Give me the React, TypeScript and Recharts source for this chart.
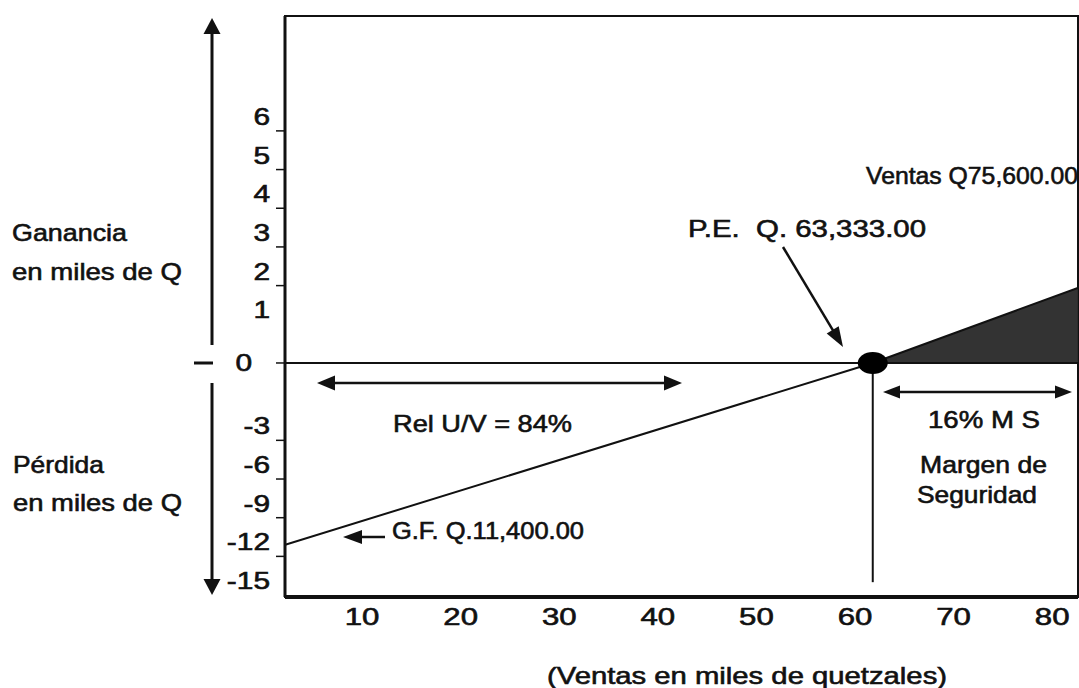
// @ts-nocheck
import React from "react";
import {
  ComposedChart,
  Line,
  Area,
  XAxis,
  YAxis,
  ReferenceLine,
  ReferenceDot,
  ReferenceArea,
} from "recharts";

// ventas en miles de Q (eje X) y resultado (ganancia / pérdida) en miles de Q
const ventas = [2.2, 61.8, 82.6];
const resultado = [-11.1, 0, 1.94];
const ganancia = [null, 0, 1.94];
const puntoEquilibrio = 61.8;
const finLineaVertical = -14;

const xTicks = [10, 20, 30, 40, 50, 60, 70, 80];
const yTicks = [6, 5, 4, 3, 2, 1, 0, -3, -6, -9, -12, -15];
const sinMarca = [1, -15];

const FONT = "'Liberation Sans', Arial, Helvetica, sans-serif";
const INK = "#111";
const BOLD = { stroke: INK, strokeWidth: 0.6 };

// escala no lineal del original: arriba 1 unidad por paso, abajo 3 unidades por paso
const yPos = (v) => (v >= 0 ? v : v / 3 - 1);
const yVal = (p) => Math.round(p >= 0 ? p : (p + 1) * 3);

const data = ventas.map((x, i) => ({
  x,
  y: yPos(resultado[i]),
  g: ganancia[i] == null ? null : yPos(ganancia[i]),
}));

const X_DOMAIN = [2.18, 82.62];
const Y_DOMAIN = [-6.05, 8.97];
const PLOT_LEFT = 285;

const YTick = ({ y, payload }) => {
  const v = yVal(payload.value);
  if (v === 0) {
    return (
      <g>
        <line x1={PLOT_LEFT - 9} x2={PLOT_LEFT} y1={y} y2={y} stroke={INK} strokeWidth={1.5} />
        <text transform={`translate(252,${y + 8}) scale(1.3,1)`} textAnchor="end" fontSize={23} fontFamily={FONT} fill={INK} {...BOLD}>
          {v}
        </text>
      </g>
    );
  }
  return (
    <g>
      {!sinMarca.includes(v) && (
        <line x1={PLOT_LEFT - 9} x2={PLOT_LEFT} y1={y} y2={y} stroke={INK} strokeWidth={1.5} />
      )}
      <text transform={`translate(270,${y - 6}) scale(1.3,1)`} textAnchor="end" fontSize={23} fontFamily={FONT} fill={INK} {...BOLD}>
        {v}
      </text>
    </g>
  );
};

const XTick = ({ x, payload }) => (
  <text transform={`translate(${x},625) scale(1.3,1)`} textAnchor="middle" fontSize={24} fontFamily={FONT} fill={INK} {...BOLD}>
    {payload.value}
  </text>
);

const head = (tx, ty, dx, dy, len, hw) => {
  const l = Math.hypot(dx, dy);
  const ux = dx / l;
  const uy = dy / l;
  const bx = tx - ux * len;
  const by = ty - uy * len;
  return `${tx},${ty} ${bx - uy * hw},${by + ux * hw} ${bx + uy * hw},${by - ux * hw}`;
};

const Arrow = ({ x1, y1, x2, y2, both = false, len = 18, hw = 7, w = 2.5 }) => {
  const dx = x2 - x1;
  const dy = y2 - y1;
  const l = Math.hypot(dx, dy);
  const ux = dx / l;
  const uy = dy / l;
  const sx = both ? x1 + ux * (len - 2) : x1;
  const sy = both ? y1 + uy * (len - 2) : y1;
  return (
    <g>
      <line x1={sx} y1={sy} x2={x2 - ux * (len - 2)} y2={y2 - uy * (len - 2)} stroke={INK} strokeWidth={w} />
      <polygon points={head(x2, y2, dx, dy, len, hw)} fill={INK} />
      {both && <polygon points={head(x1, y1, -dx, -dy, len, hw)} fill={INK} />}
    </g>
  );
};

const Txt = ({ x, y, w, fs = 23, children }) => (
  <text
    x={x}
    y={y}
    fontSize={fs}
    fontFamily={FONT}
    fill={INK}
    {...BOLD}
    textLength={w}
    lengthAdjust="spacingAndGlyphs"
    style={{ whiteSpace: "pre" }}
  >
    {children}
  </text>
);

export default function App() {
  return (
    <div style={{ position: "absolute", left: 0, top: 0, width: 1079, height: 688, background: "#fff" }}>
      <ComposedChart
        width={1079}
        height={688}
        data={data}
        margin={{ top: 16, right: 1, bottom: 51, left: 205 }}
      >
        <XAxis
          dataKey="x"
          type="number"
          domain={X_DOMAIN}
          ticks={xTicks}
          interval={0}
          allowDataOverflow
          height={40}
          axisLine={{ stroke: INK, strokeWidth: 4 }}
          tickLine={false}
          tick={<XTick />}
        />
        <YAxis
          type="number"
          domain={Y_DOMAIN}
          ticks={yTicks.map(yPos)}
          interval={0}
          allowDataOverflow
          width={80}
          axisLine={{ stroke: INK, strokeWidth: 3 }}
          tickLine={false}
          tick={<YTick />}
        />
        <ReferenceArea
          x1={X_DOMAIN[0]}
          x2={X_DOMAIN[1]}
          y1={Y_DOMAIN[0]}
          y2={Y_DOMAIN[1]}
          fill="none"
          stroke={INK}
          strokeWidth={2}
          ifOverflow="visible"
        />
        <ReferenceLine y={0} stroke={INK} strokeWidth={2} />
        <Area
          dataKey="g"
          type="linear"
          baseValue={0}
          fill="#333"
          fillOpacity={1}
          stroke="none"
          isAnimationActive={false}
        />
        <Line
          dataKey="y"
          type="linear"
          stroke={INK}
          strokeWidth={2}
          dot={false}
          isAnimationActive={false}
        />
        <ReferenceLine
          segment={[
            { x: puntoEquilibrio, y: 0 },
            { x: puntoEquilibrio, y: yPos(finLineaVertical) },
          ]}
          stroke={INK}
          strokeWidth={2}
        />
        <ReferenceDot
          x={puntoEquilibrio}
          y={0}
          shape={(p) => <ellipse cx={p.cx} cy={p.cy} rx={15} ry={11} fill="#000" />}
        />
      </ComposedChart>
      <svg
        width={1079}
        height={688}
        style={{ position: "absolute", left: 0, top: 0, pointerEvents: "none" }}
      >
        <Arrow x1={212} y1={345} x2={212} y2={18} len={16} hw={8.5} w={3} />
        <Arrow x1={212} y1={383} x2={212} y2={595} len={16} hw={8.5} w={3} />
        <line x1={194} x2={213} y1={363} y2={363} stroke={INK} strokeWidth={3} />

        <Txt x={12} y={241} w={115} fs={24}>Ganancia</Txt>
        <Txt x={12} y={280} w={170} fs={24}>en miles de Q</Txt>
        <Txt x={13} y={473} w={91} fs={24}>Pérdida</Txt>
        <Txt x={13} y={511} w={169} fs={24}>en miles de Q</Txt>

        <Txt x={866} y={184} w={212} fs={24}>Ventas Q75,600.00</Txt>
        <Txt x={688} y={237} w={238} fs={24}>P.E.  Q. 63,333.00</Txt>
        <Arrow x1={783} y1={247} x2={843} y2={347} len={20} hw={7} w={2.5} />

        <Arrow x1={317} y1={383} x2={682} y2={383} both len={18} hw={7.5} w={2.5} />
        <Txt x={393} y={432} w={179} fs={24}>Rel U/V = 84%</Txt>

        <Arrow x1={385} y1={537} x2={343} y2={537} len={19} hw={7} w={2.5} />
        <Txt x={392} y={539} w={192} fs={23}>G.F. Q.11,400.00</Txt>

        <Arrow x1={883} y1={392} x2={1072} y2={392} both len={17} hw={6.5} w={2.5} />
        <Txt x={928} y={428} w={112} fs={24}>16% M S</Txt>
        <Txt x={920} y={473} w={127} fs={24}>Margen de</Txt>
        <Txt x={917} y={503} w={120} fs={24}>Seguridad</Txt>

        <Txt x={547} y={684} w={400} fs={24}>(Ventas en miles de quetzales)</Txt>
      </svg>
    </div>
  );
}
